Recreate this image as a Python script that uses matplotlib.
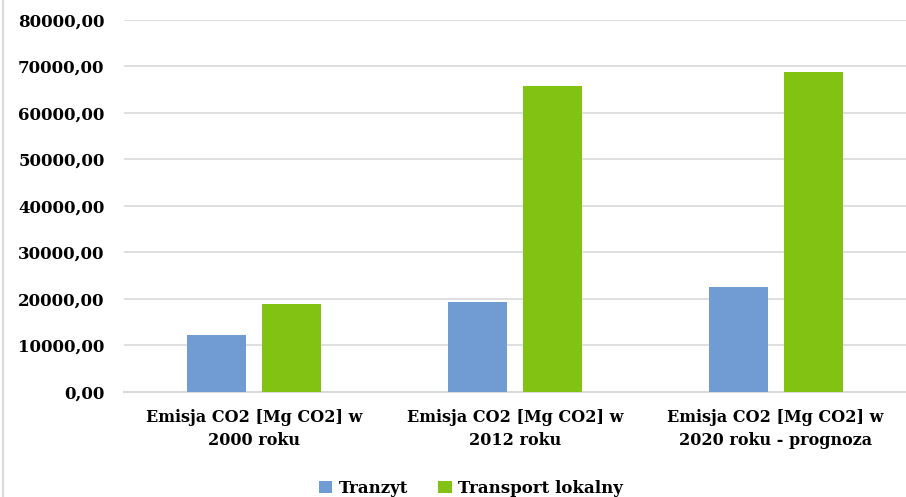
import numpy as np
import matplotlib.pyplot as plt
from matplotlib.lines import Line2D
from matplotlib.ticker import FuncFormatter

categories = ["Emisja CO2 [Mg CO2] w\n2000 roku",
              "Emisja CO2 [Mg CO2] w\n2012 roku",
              "Emisja CO2 [Mg CO2] w\n2020 roku - prognoza"]
tranzyt = [12200, 19300, 22500]
lokalny = [18900, 65850, 68900]
series_names = ["Tranzyt", "Transport lokalny"]
colors = ["#719bd3", "#81c213"]

plt.rcParams["font.family"] = ["DejaVu Serif"]
plt.rcParams["font.weight"] = "bold"

fig = plt.figure(figsize=(9.06, 4.97), dpi=100)
ax = fig.add_axes([0.1369, 0.2113, 0.8631, 0.7485])

x = np.arange(len(categories))
w = 0.226
off = 0.1437
ax.bar(x - off, tranzyt, w, color=colors[0], label=series_names[0], zorder=3)
ax.bar(x + off, lokalny, w, color=colors[1], label=series_names[1], zorder=3)

ax.set_xlim(-0.5, len(categories) - 0.5)
ax.set_ylim(0, 80000)
ax.set_yticks(np.arange(0, 80001, 10000))
ax.yaxis.set_major_formatter(FuncFormatter(lambda v, p: f"{v:.2f}".replace(".", ",")))
ax.set_xticks(x)
ax.set_xticklabels(categories, fontsize=11.5, fontweight="bold", linespacing=1.5)
ax.tick_params(axis="y", length=0, pad=14, labelsize=12)
ax.tick_params(axis="x", length=0, pad=12)
for lab in ax.get_yticklabels():
    lab.set_fontweight("bold")

ax.grid(axis="y", color="#dcdcdc", linewidth=1.3, zorder=0)
for s in ["top", "right", "left"]:
    ax.spines[s].set_visible(False)
ax.spines["bottom"].set_color("#d9d9d9")
ax.spines["bottom"].set_linewidth(1.5)

fig.legend(loc="lower center", bbox_to_anchor=(0.52, -0.03), ncol=2, frameon=False,
           prop={"weight": "bold", "size": 12}, handlelength=0.8, handleheight=0.8,
           handletextpad=0.4, columnspacing=1.8)

fig.add_artist(Line2D([0.003, 0.003], [0, 1], transform=fig.transFigure,
                      color="#d9d9d9", linewidth=1.5))

fig.savefig("out.png", dpi=100)
